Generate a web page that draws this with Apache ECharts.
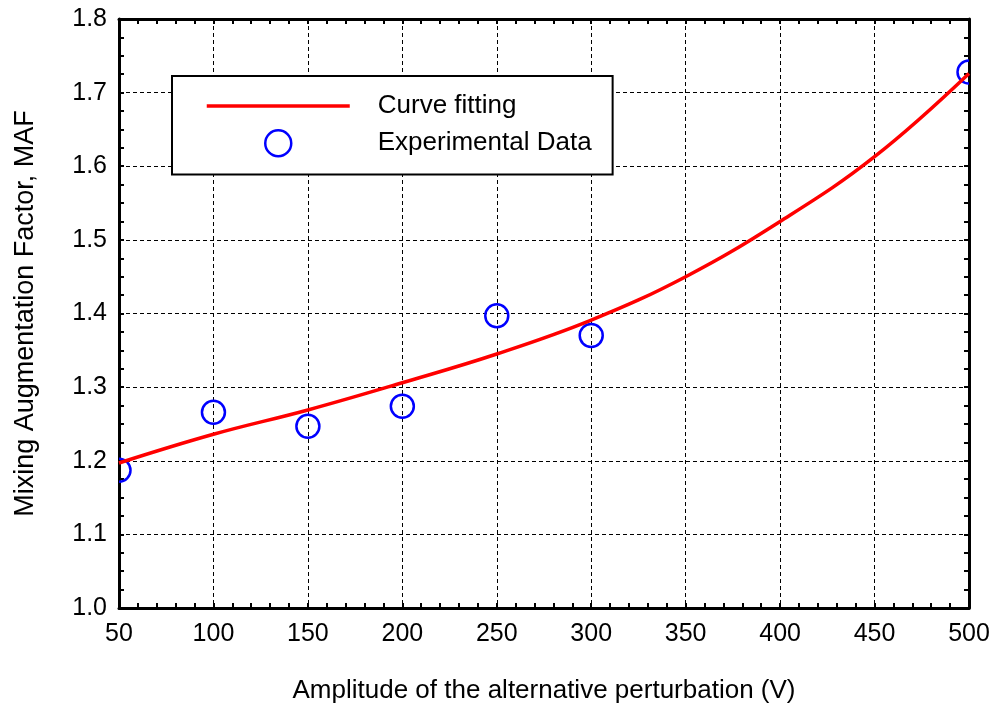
<!DOCTYPE html>
<html>
<head>
<meta charset="utf-8">
<script src="https://cdn.jsdelivr.net/npm/echarts@6/dist/echarts.min.js"></script>
<style>
html,body{margin:0;padding:0;background:#fff;}
#chart{width:995px;height:703px;}
</style>
</head>
<body>
<div id="chart"></div>
<script>
// Experimental data
var expX = [50, 100, 150, 200, 250, 300, 500];
var expMAF = [1.187, 1.266, 1.247, 1.274, 1.397, 1.370, 1.728];
// Fitted curve
var fitX = [50, 100, 150, 200, 250, 300, 350, 400, 450, 500];
var fitMAF = [1.197, 1.236, 1.269, 1.306, 1.345, 1.391, 1.450, 1.525, 1.613, 1.726];
// Axis settings
var xMin = 50, xMax = 500, xStep = 50;
var yMin = 1.0, yMax = 1.8, yStep = 0.1;
var seriesNames = ['Curve fitting', 'Experimental Data'];
var xTitle = 'Amplitude of the alternative perturbation (V)';
var yTitle = 'Mixing Augmentation Factor, MAF';

var FONT = 'Arial, "Liberation Sans", Helvetica, sans-serif';

function zip(a, b) { return a.map(function (v, i) { return [v, b[i]]; }); }

var chart = echarts.init(document.getElementById('chart'), null, {renderer: 'canvas'});

function frameAxis(base) {
  return Object.assign({
    axisLine: {show: true, onZero: false, lineStyle: {color: '#000', width: 3}},
    axisTick: {show: true, inside: true, length: 5, lineStyle: {color: '#000', width: 2}},
    minorTick: {show: true, length: 5, lineStyle: {color: '#000', width: 2}},
    splitLine: {show: false},
    axisLabel: {show: false}
  }, base);
}

var option = {
  backgroundColor: '#ffffff',
  animation: false,
  grid: {left: 119, right: 26, top: 19, bottom: 95, containLabel: false, outerBoundsMode: 'none'},
  legend: {
    orient: 'vertical',
    left: 172,
    top: 76,
    padding: [17, 21, 17, 33],
    itemWidth: 143,
    itemHeight: 26,
    itemGap: 10,
    backgroundColor: '#fff',
    borderColor: '#000',
    borderWidth: 2,
    borderRadius: 0,
    selectedMode: false,
    textStyle: {fontFamily: FONT, fontSize: 26, color: '#000', padding: [0, 0, 0, 23]},
    data: [
      {name: seriesNames[0],
        itemStyle: {color: 'rgba(0,0,0,0)', borderWidth: 0, opacity: 0},
        lineStyle: {color: '#ff0000', width: 3.5}},
      {name: seriesNames[1], icon: 'circle',
        itemStyle: {color: 'rgba(0,0,0,0)', borderColor: '#0000ff', borderWidth: 2.5}}
    ]
  },
  xAxis: [
    {
      type: 'value', position: 'bottom', min: xMin, max: xMax, interval: xStep,
      name: xTitle, nameLocation: 'middle', nameGap: 70,
      nameTextStyle: {fontFamily: FONT, fontSize: 26, color: '#000'},
      axisLine: {show: true, onZero: false, lineStyle: {color: '#000', width: 3}},
      axisTick: {show: true, inside: true, length: 5, lineStyle: {color: '#000', width: 2}},
      minorTick: {show: true, splitNumber: 5, length: 5, lineStyle: {color: '#000', width: 2}},
      splitLine: {show: true, lineStyle: {color: '#000', width: 1, type: [4, 3]}},
      axisLabel: {fontFamily: FONT, fontSize: 25, color: '#000', margin: 14}
    },
    frameAxis({type: 'value', position: 'top', min: xMin, max: xMax, interval: xStep,
      minorTick: {show: true, splitNumber: 5, length: 5, lineStyle: {color: '#000', width: 2}}})
  ],
  yAxis: [
    {
      type: 'value', position: 'left', min: yMin, max: yMax, interval: yStep,
      name: yTitle, nameLocation: 'middle', nameGap: 80, nameRotate: 90,
      nameTextStyle: {fontFamily: FONT, fontSize: 27, color: '#000'},
      axisLine: {show: true, onZero: false, lineStyle: {color: '#000', width: 3}},
      axisTick: {show: true, inside: true, length: 5, lineStyle: {color: '#000', width: 2}},
      minorTick: {show: true, splitNumber: 4, length: 5, lineStyle: {color: '#000', width: 2}},
      splitLine: {show: true, lineStyle: {color: '#000', width: 1, type: [4, 3]}},
      axisLabel: {fontFamily: FONT, fontSize: 25, color: '#000', margin: 12,
        formatter: function (v) { return v.toFixed(1); }}
    },
    frameAxis({type: 'value', position: 'right', min: yMin, max: yMax, interval: yStep,
      minorTick: {show: true, splitNumber: 4, length: 5, lineStyle: {color: '#000', width: 2}}})
  ],
  series: [
    {
      name: seriesNames[1],
      type: 'custom',
      xAxisIndex: 0, yAxisIndex: 0,
      clip: true,
      z: 2,
      encode: {x: 0, y: 1},
      data: zip(expX, expMAF),
      renderItem: function (params, api) {
        var p = api.coord([api.value(0), api.value(1)]);
        return {
          type: 'circle',
          shape: {cx: p[0], cy: p[1], r: 11.5},
          style: {fill: 'none', stroke: '#0000ff', lineWidth: 2.5}
        };
      }
    },
    {
      name: seriesNames[0],
      type: 'line',
      xAxisIndex: 0, yAxisIndex: 0,
      z: 3,
      smooth: 0.4,
      symbol: 'none',
      showSymbol: false,
      clip: true,
      lineStyle: {color: '#ff0000', width: 3.5},
      itemStyle: {color: '#ff0000'},
      data: zip(fitX, fitMAF)
    }
  ]
};
chart.setOption(option);
</script>
</body>
</html>
